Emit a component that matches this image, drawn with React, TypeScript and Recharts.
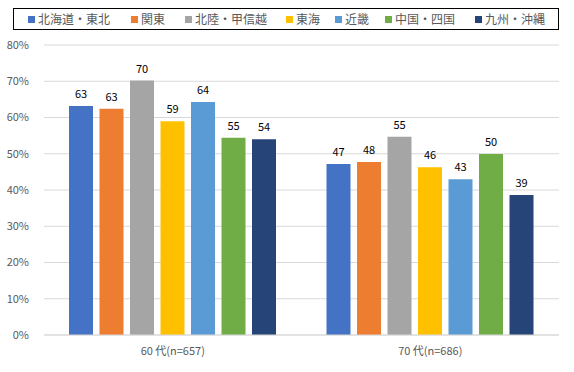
import React from 'react';
import { BarChart, Bar, XAxis, YAxis, CartesianGrid, LabelList } from 'recharts';

const categories = ['60 代(n=657)', '70 代(n=686)'];
const seriesNames = ['北海道・東北', '関東', '北陸・甲信越', '東海', '近畿', '中国・四国', '九州・沖縄'];
const seriesColors = ['#4472C4', '#ED7D31', '#A5A5A5', '#FFC000', '#5B9BD5', '#70AD47', '#264478'];

const hokkaidoTohoku = [63.2, 47.2];
const kanto = [62.4, 47.7];
const hokurikuKoshinetsu = [70.2, 54.7];
const tokai = [59.0, 46.3];
const kinki = [64.3, 43.0];
const chugokuShikoku = [54.4, 49.9];
const kyushuOkinawa = [54.0, 38.6];

const hokkaidoTohokuLabels = [63, 47];
const kantoLabels = [63, 48];
const hokurikuKoshinetsuLabels = [70, 55];
const tokaiLabels = [59, 46];
const kinkiLabels = [64, 43];
const chugokuShikokuLabels = [55, 50];
const kyushuOkinawaLabels = [54, 39];

const yTicks = [0, 10, 20, 30, 40, 50, 60, 70, 80];

const seriesValues = [hokkaidoTohoku, kanto, hokurikuKoshinetsu, tokai, kinki, chugokuShikoku, kyushuOkinawa];
const seriesLabels = [hokkaidoTohokuLabels, kantoLabels, hokurikuKoshinetsuLabels, tokaiLabels, kinkiLabels, chugokuShikokuLabels, kyushuOkinawaLabels];

const data = categories.map((cat, i) => {
  const row: Record<string, string | number> = { cat };
  seriesValues.forEach((vals, k) => {
    row['s' + k] = vals[i];
    row['l' + k] = seriesLabels[k][i];
  });
  return row;
});

const FONT = '"Noto Sans CJK JP", "Noto Sans", sans-serif';
const legendSquareX = [28, 131, 185, 286, 335, 385, 475];

export default function App() {
  return (
    <div style={{ position: 'absolute', left: 0, top: 0, width: 574, height: 372, background: '#fff', fontFamily: FONT }}>
      <BarChart
        width={574}
        height={372}
        data={data}
        margin={{ top: 45, right: 15, bottom: 0, left: 0 }}
        barSize={24}
        barGap={6.5}
      >
        <CartesianGrid vertical={false} stroke="#D9D9D9" />
        <XAxis
          dataKey="cat"
          height={37}
          tickLine={false}
          tickSize={0}
          tickMargin={12}
          axisLine={{ stroke: '#D9D9D9' }}
          tick={{ fill: '#595959', fontSize: 11, fontFamily: FONT }}
        />
        <YAxis
          width={44}
          domain={[0, 80]}
          ticks={yTicks}
          interval={0}
          axisLine={false}
          tickLine={false}
          tickSize={0}
          tickMargin={15}
          tickFormatter={(v: number) => `${v}%`}
          tick={{ fill: '#595959', fontSize: 11, fontFamily: FONT }}
        />
        {seriesNames.map((name, k) => (
          <Bar key={name} dataKey={'s' + k} name={name} fill={seriesColors[k]} isAnimationActive={false}>
            <LabelList dataKey={'l' + k} position="top" offset={8} fill="#000" fontSize={11} fontFamily={FONT} />
          </Bar>
        ))}
      </BarChart>
      <div
        style={{
          position: 'absolute',
          left: 13,
          top: 8,
          width: 546,
          height: 22,
          border: '1px solid #000',
          boxSizing: 'border-box',
        }}
      >
        {seriesNames.map((name, k) => (
          <div
            key={name}
            style={{
              position: 'absolute',
              left: legendSquareX[k] - 14,
              top: 0,
              height: 20,
              display: 'flex',
              alignItems: 'center',
              whiteSpace: 'nowrap',
            }}
          >
            <span style={{ display: 'inline-block', width: 7, height: 7, background: seriesColors[k], marginRight: 3 }} />
            <span style={{ fontSize: 12, color: '#595959', lineHeight: '20px' }}>{name}</span>
          </div>
        ))}
      </div>
    </div>
  );
}
